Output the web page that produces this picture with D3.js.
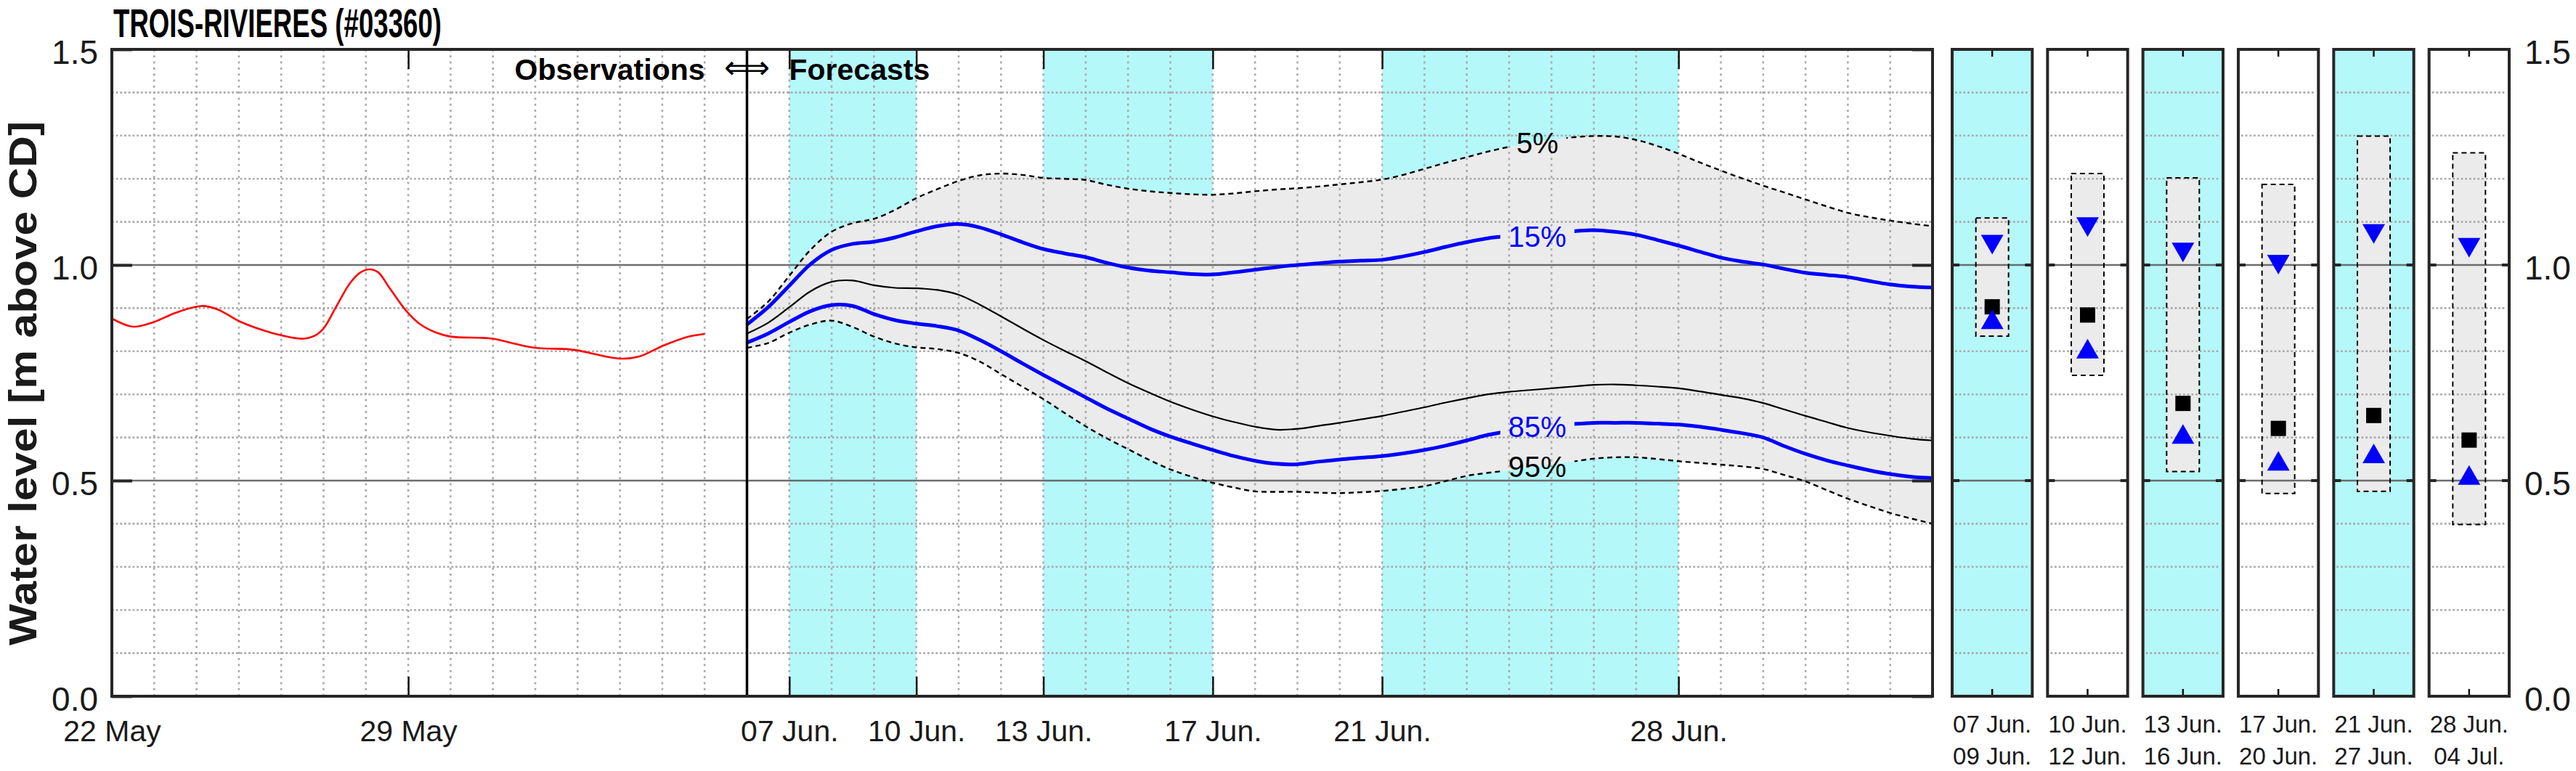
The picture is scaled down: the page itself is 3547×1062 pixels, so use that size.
<!DOCTYPE html>
<html><head><meta charset="utf-8">
<script src="https://cdn.jsdelivr.net/npm/d3@7"></script>
<style>
html,body{margin:0;padding:0;background:#fff;}
svg{display:block;font-family:"Liberation Sans",Arial,Helvetica,sans-serif;}
</style></head><body>
<svg id="chart" width="3547" height="1062"></svg>
<script>
// ---------------- DATA ----------------
const chartTitle = "TROIS-RIVIERES (#03360)";
const yAxisLabel = "Water level [m above CD]";
const yTickValues = [0, 0.5, 1.0, 1.5];
const xDomain = ["2023-05-22T00:00", "2023-07-04T00:00"];
const xTickDates = ["2023-05-22T00:00","2023-05-29T00:00","2023-06-07T00:00","2023-06-10T00:00","2023-06-13T00:00","2023-06-17T00:00","2023-06-21T00:00","2023-06-28T00:00"];
const xTickLabels = ["22 May","29 May","07 Jun.","10 Jun.","13 Jun.","17 Jun.","21 Jun.","28 Jun."];
const bandStarts = ["2023-06-07T00:00","2023-06-13T00:00","2023-06-21T00:00"];
const bandEnds   = ["2023-06-10T00:00","2023-06-17T00:00","2023-06-28T00:00"];
const forecastIssue = "2023-06-06T00:00";

const obsTimes = ["2023-05-22T00:00","2023-05-22T12:00","2023-05-23T00:00","2023-05-23T12:00","2023-05-24T03:00","2023-05-24T12:00","2023-05-25T00:00","2023-05-25T12:00","2023-05-26T00:00","2023-05-26T12:00","2023-05-26T19:00","2023-05-27T00:00","2023-05-27T07:00","2023-05-27T15:00","2023-05-27T21:00","2023-05-28T02:00","2023-05-28T07:00","2023-05-28T13:00","2023-05-28T23:00","2023-05-29T07:00","2023-05-29T16:00","2023-05-30T00:00","2023-05-30T18:00","2023-05-31T00:00","2023-06-01T00:00","2023-06-01T18:00","2023-06-02T00:00","2023-06-03T00:00","2023-06-03T11:00","2023-06-04T00:00","2023-06-04T14:00","2023-06-05T00:00"];
const obsLevels = [0.876,0.857,0.868,0.889,0.905,0.897,0.870,0.851,0.837,0.829,0.836,0.853,0.902,0.958,0.983,0.990,0.983,0.949,0.893,0.862,0.843,0.834,0.831,0.829,0.808,0.805,0.802,0.783,0.788,0.812,0.833,0.840];

// forecast every 12 h from 06 Jun 00:00 to 04 Jul 00:00
const forecastFrom = "2023-06-06T00:00", forecastTo = "2023-07-04T00:00", forecastStepHours = 12;
const q05 = [0.875,0.915,0.975,1.035,1.077,1.097,1.107,1.128,1.155,1.176,
 1.195,1.208,1.212,1.209,1.202,1.200,1.197,1.186,1.177,1.171,
 1.167,1.164,1.163,1.166,1.171,1.175,1.178,1.182,1.187,1.192,
 1.198,1.209,1.223,1.237,1.250,1.263,1.274,1.283,1.290,1.296,
 1.299,1.298,1.290,1.276,1.258,1.238,1.219,1.201,1.184,1.168,
 1.152,1.136,1.121,1.111,1.103,1.096,1.090];
const q15 = [0.862,0.902,0.952,1.002,1.035,1.049,1.054,1.064,1.078,1.090,
 1.095,1.087,1.071,1.053,1.037,1.027,1.018,1.005,0.994,0.987,
 0.983,0.979,0.978,0.983,0.989,0.995,1.000,1.004,1.008,1.010,
 1.012,1.020,1.030,1.042,1.053,1.062,1.067,1.072,1.076,1.078,
 1.081,1.077,1.070,1.058,1.045,1.031,1.017,1.008,1.001,0.991,
 0.982,0.977,0.972,0.963,0.955,0.950,0.948];
const q50 = [0.841,0.866,0.902,0.939,0.961,0.964,0.953,0.947,0.946,0.942,
 0.931,0.908,0.881,0.853,0.826,0.801,0.777,0.751,0.726,0.704,
 0.683,0.665,0.649,0.636,0.625,0.618,0.620,0.627,0.634,0.642,
 0.650,0.660,0.670,0.681,0.691,0.700,0.706,0.710,0.714,0.718,
 0.722,0.723,0.721,0.718,0.714,0.707,0.699,0.691,0.680,0.665,
 0.650,0.636,0.622,0.612,0.604,0.597,0.593];
const q85 = [0.820,0.841,0.868,0.893,0.907,0.905,0.886,0.872,0.864,0.858,
 0.848,0.826,0.800,0.772,0.745,0.719,0.693,0.667,0.644,0.621,
 0.602,0.586,0.571,0.557,0.546,0.539,0.538,0.544,0.549,0.553,
 0.557,0.563,0.571,0.581,0.593,0.606,0.615,0.622,0.627,0.631,
 0.634,0.634,0.634,0.632,0.630,0.625,0.618,0.610,0.600,0.580,
 0.562,0.547,0.535,0.524,0.515,0.509,0.506];
const q95 = [0.808,0.819,0.843,0.862,0.871,0.856,0.834,0.818,0.809,0.805,
 0.796,0.776,0.747,0.718,0.689,0.657,0.626,0.598,0.573,0.548,
 0.526,0.509,0.495,0.484,0.475,0.474,0.474,0.472,0.471,0.473,
 0.476,0.481,0.487,0.499,0.511,0.518,0.524,0.531,0.538,0.544,
 0.551,0.554,0.554,0.550,0.545,0.541,0.537,0.533,0.527,0.513,
 0.498,0.478,0.458,0.441,0.425,0.412,0.400];

const curveLabelTime = "2023-06-24T16:00";
const curveLabelTexts = ["5%","15%","85%","95%"];
const curveLabelLevels = [1.283,1.067,0.625,0.532];
const curveLabelColors = ["#000000","#0000ff","#0000ff","#000000"];

const panelFrom = ["07 Jun.","10 Jun.","13 Jun.","17 Jun.","21 Jun.","28 Jun."];
const panelTo   = ["09 Jun.","12 Jun.","16 Jun.","20 Jun.","27 Jun.","04 Jul."];
const panelShaded = [true,false,true,false,true,false];
const panelHigh = [1.109,1.212,1.202,1.187,1.299,1.260];
const panelLow  = [0.835,0.744,0.521,0.470,0.475,0.398];
const panelQ15  = [1.047,1.088,1.029,1.001,1.072,1.040];
const panelQ50  = [0.903,0.884,0.679,0.621,0.651,0.594];
const panelQ85  = [0.874,0.806,0.608,0.546,0.563,0.513];

// ---------------- STYLE ----------------
const CYAN = "#b4f8fa", FILL = "#ebebeb", GRID = "#ababab", FRAME = "#262626";
const M = {left:154, right:2661, top:68, bottom:959};
const P = {left:2688, right:3455};

const parse = d3.utcParse("%Y-%m-%dT%H:%M");
const svg = d3.select("#chart");

const x = d3.scaleUtc().domain(xDomain.map(parse)).range([M.left, M.right]);
const y = d3.scaleLinear().domain([0, 1.5]).range([M.bottom, M.top]);

const fcTimes = d3.utcHour.range(parse(forecastFrom), d3.utcHour.offset(parse(forecastTo), 1), forecastStepHours);
const fc = fcTimes.map((t, i) => ({t, q05:q05[i], q15:q15[i], q50:q50[i], q85:q85[i], q95:q95[i]}));
const obs = obsTimes.map((t, i) => ({t: parse(t), v: obsLevels[i]}));

const defs = svg.append("defs");
defs.append("clipPath").attr("id","mainClip").append("rect")
  .attr("x", M.left).attr("y", M.top).attr("width", M.right - M.left).attr("height", M.bottom - M.top);

const main = svg.append("g");
main.append("rect").attr("x", M.left).attr("y", M.top).attr("width", M.right-M.left).attr("height", M.bottom-M.top).attr("fill","#fff");

// cyan bands
main.selectAll("rect.band").data(bandStarts.map((s,i)=>({s:parse(s), e:parse(bandEnds[i])})))
  .join("rect").attr("class","band")
  .attr("x", d => x(d.s)).attr("width", d => x(d.e) - x(d.s))
  .attr("y", M.top).attr("height", M.bottom - M.top).attr("fill", CYAN);

// uncertainty fill
const curve = d3.curveCatmullRom.alpha(0.5);
main.append("path").datum(fc)
  .attr("d", d3.area().x(d => x(d.t)).y0(d => y(d.q95)).y1(d => y(d.q05)).curve(curve))
  .attr("fill", FILL);

// minor grid
const minorY = d3.range(1, 15).map(i => i / 10).filter(v => Math.abs(v - 0.5) > 1e-6 && Math.abs(v - 1.0) > 1e-6);
main.append("g").selectAll("line").data(minorY).join("line")
  .attr("x1", M.left).attr("x2", M.right).attr("y1", d => y(d)).attr("y2", d => y(d))
  .attr("stroke", GRID).attr("stroke-width", 2.6).attr("stroke-dasharray", "2.8,2.9");
const days = d3.utcDay.range(d3.utcDay.offset(parse(xDomain[0]), 1), parse(xDomain[1]));
main.append("g").selectAll("line").data(days).join("line")
  .attr("x1", d => x(d)).attr("x2", d => x(d)).attr("y1", M.top).attr("y2", M.bottom)
  .attr("stroke", GRID).attr("stroke-width", 2.6).attr("stroke-dasharray", "3,5.3");

// major horizontal lines
main.append("g").selectAll("line").data([0.5, 1.0]).join("line")
  .attr("x1", M.left).attr("x2", M.right).attr("y1", d => y(d)).attr("y2", d => y(d))
  .attr("stroke", "#5e5e5e").attr("stroke-width", 2.6).attr("stroke-opacity", 0.9);

// labels and gap mask
const labelLayer = svg.append("g");
const labelT = parse(curveLabelTime);
const labels = labelLayer.selectAll("text").data(curveLabelTexts).join("text")
  .attr("x", x(labelT)).attr("y", (d,i) => y(curveLabelLevels[i]))
  .attr("text-anchor","middle").attr("dy","0.36em")
  .attr("font-size", 40).attr("fill", (d,i) => curveLabelColors[i]).text(d => d);
const mask = defs.append("mask").attr("id","gapMask").attr("maskUnits","userSpaceOnUse")
  .attr("x",0).attr("y",0).attr("width",3547).attr("height",1062);
mask.append("rect").attr("x",0).attr("y",0).attr("width",3547).attr("height",1062).attr("fill","#fff");
labels.each(function(){
  const b = this.getBBox();
  mask.append("rect").attr("x", b.x - 11).attr("y", b.y + 4).attr("width", b.width + 22).attr("height", b.height - 8).attr("fill","#000");
});

// lines
const lines = main.append("g").attr("clip-path","url(#mainClip)");
lines.append("path").datum(obs)
  .attr("d", d3.line().x(d => x(d.t)).y(d => y(d.v)).curve(curve))
  .attr("fill","none").attr("stroke","#ff0000").attr("stroke-width", 2.6);
const lineFor = key => d3.line().x(d => x(d.t)).y(d => y(d[key])).curve(curve);
const masked = lines.append("g").attr("mask","url(#gapMask)");
masked.append("path").datum(fc).attr("d", lineFor("q05")).attr("fill","none").attr("stroke","#000").attr("stroke-width",2.4).attr("stroke-dasharray","7,5");
masked.append("path").datum(fc).attr("d", lineFor("q95")).attr("fill","none").attr("stroke","#000").attr("stroke-width",2.4).attr("stroke-dasharray","7,5");
lines.append("path").datum(fc).attr("d", lineFor("q50")).attr("fill","none").attr("stroke","#000").attr("stroke-width",2.2);
masked.append("path").datum(fc).attr("d", lineFor("q15")).attr("fill","none").attr("stroke","#0000ff").attr("stroke-width",5);
masked.append("path").datum(fc).attr("d", lineFor("q85")).attr("fill","none").attr("stroke","#0000ff").attr("stroke-width",5);
labelLayer.raise();

// divider
const xDiv = x(parse(forecastIssue));
svg.append("line").attr("x1", xDiv).attr("x2", xDiv).attr("y1", M.top).attr("y2", M.bottom)
  .attr("stroke","#000").attr("stroke-width", 3.5);

// axes frame + ticks
const axG = svg.append("g");
axG.append("g").attr("transform",`translate(0,${M.bottom})`)
  .call(d3.axisBottom(x).tickValues(xTickDates.map(parse)).tickFormat((d,i)=>xTickLabels[i]).tickSize(-27).tickPadding(33))
  .call(g => { g.select(".domain").remove(); g.selectAll(".tick line").attr("stroke","#111").attr("stroke-width",2.5);
    g.selectAll("text").attr("font-size",41).attr("fill","#1a1a1a").attr("font-family","'Liberation Sans',Arial,sans-serif"); });
axG.append("g").attr("transform",`translate(0,${M.top})`)
  .call(d3.axisTop(x).tickValues(xTickDates.map(parse)).tickFormat("").tickSize(-27))
  .call(g => { g.select(".domain").remove(); g.selectAll(".tick line").attr("stroke","#111").attr("stroke-width",2.5); });
axG.append("g").attr("transform",`translate(${M.left},0)`)
  .call(d3.axisLeft(y).tickValues(yTickValues).tickFormat(d3.format(".1f")).tickSize(-28).tickPadding(19))
  .call(g => { g.select(".domain").remove(); g.selectAll(".tick line").attr("stroke",FRAME).attr("stroke-width",4);
    g.selectAll("text").attr("font-size",46).attr("fill","#1a1a1a").attr("dy","0.43em").attr("font-family","'Liberation Sans',Arial,sans-serif"); });
axG.append("g").attr("transform",`translate(${M.right},0)`)
  .call(d3.axisRight(y).tickValues(yTickValues).tickFormat("").tickSize(-28))
  .call(g => { g.select(".domain").remove(); g.selectAll(".tick line").attr("stroke",FRAME).attr("stroke-width",4); });
axG.append("rect").attr("x", M.left).attr("y", M.top).attr("width", M.right-M.left).attr("height", M.bottom-M.top)
  .attr("fill","none").attr("stroke",FRAME).attr("stroke-width",4);

// title, y label, legend
svg.append("text").attr("x",156).attr("y",51).attr("font-size",55).attr("font-weight","bold").attr("fill","#000")
  .attr("textLength",452).attr("lengthAdjust","spacingAndGlyphs").text(chartTitle);
svg.append("text").attr("transform",`translate(50,528) rotate(-90)`)
  .attr("text-anchor","middle").attr("font-size",54).attr("font-weight","bold").attr("fill","#1a1a1a")
  .attr("textLength",722).attr("lengthAdjust","spacingAndGlyphs").text(yAxisLabel);
svg.append("text").attr("x", xDiv - 58).attr("y",110).attr("text-anchor","end").attr("font-size",41).attr("font-weight","bold").text("Observations");
svg.append("text").attr("x", xDiv).attr("y",108).attr("text-anchor","middle").attr("font-size",44).attr("font-family","'DejaVu Sans',sans-serif").text("\u27FA");
svg.append("text").attr("x", xDiv + 58).attr("y",110).attr("text-anchor","start").attr("font-size",41).attr("font-weight","bold").text("Forecasts");

// ---------------- PANELS ----------------
const px = d3.scaleBand().domain(d3.range(panelFrom.length)).range([P.left, P.right]).paddingInner(0.16);
const bw = px.bandwidth();
const boxW = 45, sq = 21, triW = 31, triH = 27;
const panels = svg.append("g").selectAll("g").data(d3.range(panelFrom.length)).join("g")
  .attr("transform", i => `translate(${px(i)},0)`);
panels.append("rect").attr("x",0).attr("y",M.top).attr("width",bw).attr("height",M.bottom-M.top)
  .attr("fill", i => panelShaded[i] ? CYAN : "#fff");
panels.each(function(i){
  const g = d3.select(this);
  const cx = bw/2;
  g.append("rect").attr("x", cx - boxW/2).attr("width", boxW)
    .attr("y", y(panelHigh[i])).attr("height", y(panelLow[i]) - y(panelHigh[i]))
    .attr("fill", FILL);
  g.append("g").selectAll("line").data(minorY).join("line")
    .attr("x1", 4).attr("x2", bw-4).attr("y1", d => y(d)).attr("y2", d => y(d))
    .attr("stroke", GRID).attr("stroke-width", 2.6).attr("stroke-dasharray", "2.8,2.9");
  g.append("g").selectAll("line").data([0.5,1.0]).join("line")
    .attr("x1", 0).attr("x2", bw).attr("y1", d => y(d)).attr("y2", d => y(d))
    .attr("stroke", "#5e5e5e").attr("stroke-width", 2.6).attr("stroke-opacity",0.9);
  g.append("rect").attr("x", cx - boxW/2).attr("width", boxW)
    .attr("y", y(panelHigh[i])).attr("height", y(panelLow[i]) - y(panelHigh[i]))
    .attr("fill", "none").attr("stroke","#000").attr("stroke-width",2).attr("stroke-dasharray","7,5");
  g.append("rect").attr("x", cx - sq/2).attr("y", y(panelQ50[i]) - sq/2).attr("width", sq).attr("height", sq).attr("fill","#000");
  const down = y(panelQ15[i]);
  g.append("path").attr("d", `M${cx-triW/2},${down-triH/2}L${cx+triW/2},${down-triH/2}L${cx},${down+triH/2}Z`).attr("fill","#0000ff");
  const up = y(panelQ85[i]);
  g.append("path").attr("d", `M${cx-triW/2},${up+triH/2}L${cx+triW/2},${up+triH/2}L${cx},${up-triH/2}Z`).attr("fill","#0000ff");
  [0.5,1.0].forEach(v => {
    g.append("line").attr("x1",0).attr("x2",10).attr("y1",y(v)).attr("y2",y(v)).attr("stroke",FRAME).attr("stroke-width",4);
    g.append("line").attr("x1",bw-10).attr("x2",bw).attr("y1",y(v)).attr("y2",y(v)).attr("stroke",FRAME).attr("stroke-width",4);
  });
  g.append("line").attr("x1",cx).attr("x2",cx).attr("y1",M.top).attr("y2",M.top+10).attr("stroke","#111").attr("stroke-width",2.5);
  g.append("line").attr("x1",cx).attr("x2",cx).attr("y1",M.bottom).attr("y2",M.bottom-10).attr("stroke","#111").attr("stroke-width",2.5);
  g.append("rect").attr("x",0).attr("y",M.top).attr("width",bw).attr("height",M.bottom-M.top)
    .attr("fill","none").attr("stroke",FRAME).attr("stroke-width",4);
  g.append("text").attr("x",cx).attr("y",1009).attr("text-anchor","middle").attr("font-size",33).attr("fill","#1a1a1a").text(panelFrom[i]);
  g.append("text").attr("x",cx).attr("y",1053).attr("text-anchor","middle").attr("font-size",33).attr("fill","#1a1a1a").text(panelTo[i]);
});

// right axis labels
svg.append("g").selectAll("text").data(yTickValues).join("text")
  .attr("x", 3476).attr("y", d => y(d)).attr("dy","0.43em").attr("font-size",46).attr("fill","#1a1a1a")
  .text(d => d3.format(".1f")(d));
</script>
</body></html>
